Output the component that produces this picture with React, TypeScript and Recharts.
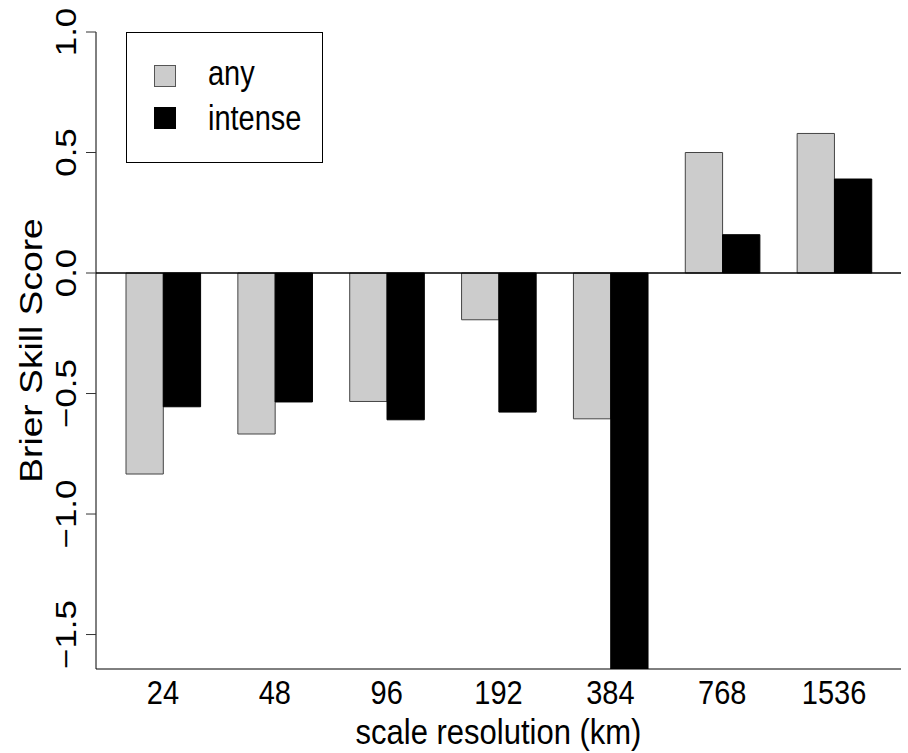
import React from "react";
import {
  BarChart,
  Bar,
  XAxis,
  YAxis,
  ReferenceLine,
  Legend,
} from "recharts";

// scale resolution (km)
const categories = ["24", "48", "96", "192", "384", "768", "1536"];
// Brier skill score
const anyScores = [-0.834, -0.668, -0.533, -0.194, -0.605, 0.5, 0.579];
const intenseScores = [-0.555, -0.535, -0.609, -0.577, -1.75, 0.159, 0.39];
const yTicks = [-1.5, -1.0, -0.5, 0.0, 0.5, 1.0];

const data = categories.map((cat, i) => ({
  cat,
  any: anyScores[i],
  intense: intenseScores[i],
}));

const FONT = "'Liberation Sans', Arial, Helvetica, sans-serif";
const FS = 29;
const TITLE_FS = 31;
// the reference text is a bit taller than it is wide
const STRETCH = 1.2;
const X_STRETCH = 1.15;

const fmt = (v: number) => {
  const s = Math.abs(v).toFixed(1);
  return v < 0 ? `\u2212${s}` : s;
};

const XTick = (props: any) => {
  const { x, y, payload } = props;
  return (
    <g transform={`translate(${x},${y + 35}) scale(1,${X_STRETCH})`}>
      <text x={0} y={0} textAnchor="middle" fontFamily={FONT} fontSize={FS} fill="#000">
        {payload.value}
      </text>
    </g>
  );
};

const YTick = (props: any) => {
  const { x, y, payload } = props;
  return (
    <g transform={`translate(${x - 8},${y}) scale(1,${STRETCH}) rotate(-90)`}>
      <text x={0} y={0} textAnchor="middle" fontFamily={FONT} fontSize={FS} fill="#000">
        {fmt(payload.value)}
      </text>
    </g>
  );
};

const XTitle = (props: any) => {
  const { x, y, width } = props.viewBox;
  return (
    <g transform={`translate(${x + width / 2},${y + 75}) scale(1,${X_STRETCH})`}>
      <text x={0} y={0} textAnchor="middle" fontFamily={FONT} fontSize={TITLE_FS} fill="#000">
        scale resolution (km)
      </text>
    </g>
  );
};

const YTitle = (props: any) => {
  const { x, y, height } = props.viewBox;
  return (
    <g transform={`translate(${x + 42},${y + height / 2}) scale(1,${STRETCH}) rotate(-90)`}>
      <text x={0} y={0} textAnchor="middle" fontFamily={FONT} fontSize={TITLE_FS} fill="#000">
        Brier Skill Score
      </text>
    </g>
  );
};

const LegendBox = () => (
  <svg width={197} height={131} style={{ display: "block" }}>
    <rect x={0.5} y={0.5} width={196} height={130} fill="#fff" stroke="#000" />
    <rect x={28.5} y={33.5} width={21} height={21} fill="#cccccc" stroke="#555" />
    <rect x={28.5} y={75.5} width={21} height={21} fill="#000" stroke="#000" />
    <g transform={`translate(82,53) scale(1,${STRETCH})`}>
      <text fontFamily={FONT} fontSize={FS} fill="#000">any</text>
    </g>
    <g transform={`translate(82,98) scale(1,${STRETCH})`}>
      <text fontFamily={FONT} fontSize={FS} fill="#000">intense</text>
    </g>
  </svg>
);

export default function App() {
  return (
    <div style={{ position: "absolute", left: 0, top: 0, width: 908, height: 753, background: "#fff" }}>
      <BarChart
        width={908}
        height={753}
        data={data}
        margin={{ top: 32, right: 7, left: 0, bottom: 0 }}
        barGap={0}
        barSize={37.3}
      >
        <XAxis
          dataKey="cat"
          height={84}
          padding={{ left: 11, right: 11 }}
          tickLine={false}
          tickSize={0}
          tickMargin={0}
          axisLine={{ stroke: "#000" }}
          tick={<XTick />}
          interval={0}
          label={{ content: <XTitle /> }}
        />
        <XAxis
          xAxisId="top"
          dataKey="cat"
          orientation="top"
          height={0}
          tick={false}
          tickLine={false}
          axisLine={{ stroke: "#000" }}
        />
        <YAxis
          width={96}
          domain={[-1.643, 1.0]}
          allowDataOverflow
          ticks={yTicks}
          tickSize={10}
          tickMargin={2}
          tickLine={{ stroke: "#333" }}
          axisLine={{ stroke: "#000" }}
          tick={<YTick />}
          label={{ content: <YTitle /> }}
        />
        <YAxis
          yAxisId="right"
          orientation="right"
          width={0}
          domain={[-1.643, 1.0]}
          tick={false}
          tickLine={false}
          axisLine={{ stroke: "#000" }}
        />
        <Legend
          layout="vertical"
          align="center"
          verticalAlign="middle"
          wrapperStyle={{ left: 126, top: 32, width: 197, height: 131 }}
          content={<LegendBox />}
        />
        <ReferenceLine y={0} stroke="#000" strokeWidth={1.3} />
        <Bar dataKey="any" fill="#cccccc" stroke="#444" strokeWidth={1} isAnimationActive={false} />
        <Bar dataKey="intense" fill="#000" stroke="#000" strokeWidth={1} isAnimationActive={false} />
      </BarChart>
    </div>
  );
}
